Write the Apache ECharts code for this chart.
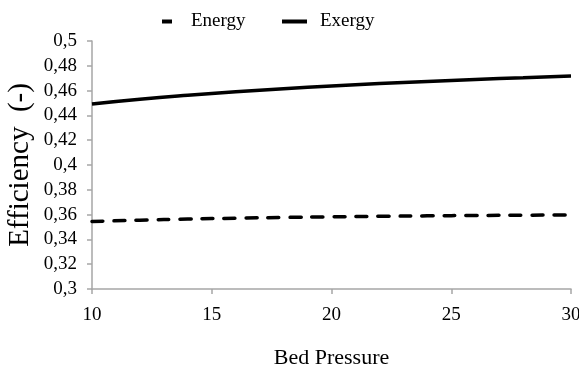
<!DOCTYPE html>
<html><head><meta charset="utf-8">
<script src="https://cdn.jsdelivr.net/npm/echarts@6/dist/echarts.min.js"></script>
<style>html,body{margin:0;padding:0;background:#fff}#c{width:579px;height:371px}</style>
</head><body><div id="c"></div>
<script>
const pressure = [10, 12, 14, 16, 18, 20, 22, 24, 26, 28, 30];
const energy = [0.3545, 0.3555, 0.3564, 0.3571, 0.3577, 0.3582, 0.3586, 0.3590, 0.3593, 0.3595, 0.3598];
const exergy = [0.4492, 0.4530, 0.4562, 0.4590, 0.4615, 0.4637, 0.4657, 0.4674, 0.4690, 0.4704, 0.4717];
const yTicks = [0.3, 0.32, 0.34, 0.36, 0.38, 0.4, 0.42, 0.44, 0.46, 0.48, 0.5];

const font = 'Liberation Serif, Times New Roman, serif';
const chart = echarts.init(document.getElementById('c'));
const pairs = a => pressure.map((p, i) => [p, a[i]]);
chart.setOption({
  animation: false,
  textStyle: { fontFamily: font, color: '#000' },
  legend: [
    { data: [{ name: 'Energy', icon: 'rect' }], left: 157, top: 7, itemWidth: 10, itemHeight: 4, itemGap: 0,
      itemStyle: { color: '#000' },
      textStyle: { fontFamily: font, fontSize: 19, color: '#000', padding: [0, 0, 0, 14] } },
    { data: [{ name: 'Exergy', icon: 'rect' }], left: 277, top: 7, itemWidth: 25, itemHeight: 4,
      itemStyle: { color: '#000' },
      textStyle: { fontFamily: font, fontSize: 19, color: '#000', padding: [0, 0, 0, 8] } }
  ],
  grid: { left: 92, right: 8, top: 41, bottom: 82, outerBoundsMode: 'none', containLabel: false },
  xAxis: {
    type: 'value', min: 10, max: 30, interval: 5,
    name: 'Bed Pressure', nameLocation: 'middle', nameGap: 58, nameMoveOverlap: false,
    nameTextStyle: { fontFamily: font, fontSize: 22, color: '#000' },
    axisLine: { lineStyle: { color: '#a6a6a6', width: 1.5 } },
    axisTick: { show: true, length: 5, lineStyle: { color: '#a6a6a6', width: 1.5 } },
    axisLabel: { fontFamily: font, fontSize: 19, color: '#000', margin: 17 },
    splitLine: { show: false }
  },
  yAxis: {
    type: 'value', min: 0.3, max: 0.5, interval: 0.02,
    name: 'Efficiency  (-)', nameLocation: 'middle', nameGap: 57, nameRotate: 90, nameMoveOverlap: false,
    nameTextStyle: { fontFamily: font, fontSize: 29, color: '#000' },
    axisLine: { show: true, lineStyle: { color: '#a6a6a6', width: 1.5 } },
    axisTick: { show: true, length: 5, lineStyle: { color: '#a6a6a6', width: 1.5 } },
    axisLabel: { fontFamily: font, fontSize: 19, color: '#000', margin: 15,
      formatter: v => String(+v.toFixed(2)).replace('.', ',') },
    splitLine: { show: false }
  },
  series: [
    { name: 'Energy', type: 'line', data: pairs(energy), smooth: true, showSymbol: false, symbol: 'none',
      lineStyle: { color: '#000', width: 3.5, type: [11, 11], cap: 'round' }, itemStyle: { color: '#000' } },
    { name: 'Exergy', type: 'line', data: pairs(exergy), smooth: true, showSymbol: false, symbol: 'none',
      lineStyle: { color: '#000', width: 3.5 }, itemStyle: { color: '#000' } }
  ]
});
</script></body></html>
